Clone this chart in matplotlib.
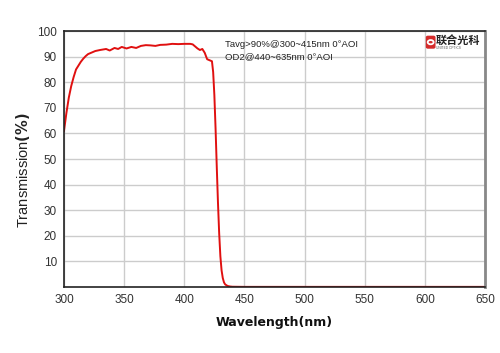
import matplotlib

matplotlib.use("Agg")

import matplotlib.pyplot as plt
from matplotlib.patches import FancyBboxPatch, Circle

# transmission curve
wavelength = [300, 302, 304, 306, 308, 310, 312, 314, 316, 318, 320, 323, 326,
              330, 335, 338, 342, 345, 348, 352, 356, 360, 364, 368, 372, 376,
              380, 385, 390, 395, 400, 405, 407, 409, 411, 413, 415, 417, 419,
              421, 423, 424, 425, 426, 427, 428, 429, 430, 431, 432, 433, 434,
              436, 438, 440, 450, 500, 550, 600, 650]
transmission = [61, 68, 74, 78.5, 82, 85, 86.5, 88, 89.2, 90.2, 91, 91.6, 92.2,
                92.6, 93.0, 92.4, 93.4, 93.0, 93.8, 93.2, 93.8, 93.4, 94.2, 94.5,
                94.4, 94.2, 94.6, 94.7, 95.0, 94.9, 95.0, 95.0, 94.8, 94.0, 93.2,
                92.6, 93.0, 91.5, 89.0, 88.6, 88.2, 84, 75, 62, 47, 33, 21, 12,
                6.5, 3.5, 1.8, 1.0, 0.4, 0.2, 0.1, 0.05, 0.05, 0.05, 0.05, 0.05]

x_ticks = [300, 350, 400, 450, 500, 550, 600, 650]
y_ticks = [10, 20, 30, 40, 50, 60, 70, 80, 90, 100]
spec_lines = ["Tavg>90%@300~415nm 0°AOI", "OD2@440~635nm 0°AOI"]

plt.rcParams["font.family"] = ["Arial", "Liberation Sans", "DejaVu Sans"]

fig = plt.figure(figsize=(5.0, 3.53), dpi=100)
ax = fig.add_axes([0.128, 0.187, 0.842, 0.725])

ax.plot(wavelength, transmission, color="#e01010", linewidth=1.4)

ax.set_xlim(300, 650)
ax.set_ylim(0, 100)
ax.set_xticks(x_ticks)
ax.set_yticks(y_ticks)
ax.tick_params(labelsize=8.5, length=0, pad=5, colors="#333333")
ax.grid(True, color="#cccccc", linewidth=1.0)
ax.set_axisbelow(True)

for side in ("left", "bottom", "top"):
    ax.spines[side].set_color("#222222")
    ax.spines[side].set_linewidth(1.2)
ax.spines["right"].set_color("#888888")
ax.spines["right"].set_linewidth(2.0)

ax.set_xlabel("Wavelength(nm)", fontsize=9, fontweight="bold", labelpad=7,
              family="DejaVu Sans", color="#111111")
ax.set_ylabel("Transmission$\\mathbf{(\\%)}$", fontsize=10.5, color="#222222")
ax.yaxis.set_label_coords(-0.076, 0.455)

ax.text(0.382, 0.965, spec_lines[0], transform=ax.transAxes, fontsize=6.8,
        va="top", color="#222222")
ax.text(0.382, 0.917, spec_lines[1], transform=ax.transAxes, fontsize=6.8,
        va="top", color="#222222")

# logo
logo_ax = fig.add_axes([0.850, 0.855, 0.118, 0.05])
logo_ax.set_xlim(0, 12)
logo_ax.set_ylim(0, 5)
logo_ax.axis("off")
logo_ax.add_patch(FancyBboxPatch((0.3, 0.9), 1.7, 3.3,
                                 boxstyle="round,pad=0,rounding_size=0.3",
                                 color="#d42a2a"))
logo_ax.add_patch(Circle((1.15, 2.55), 0.6, facecolor="none", edgecolor="white",
                         linewidth=1.3))
logo_ax.text(2.15, 3.0, "联合光科", fontsize=8, fontweight="bold",
             family=["Noto Sans CJK SC", "DejaVu Sans"], va="center",
             color="#222222")
logo_ax.text(2.3, 0.9, "UNITED OPTICS", fontsize=2.3, va="center",
             color="#555555")

fig.savefig("out.png", dpi=100)
